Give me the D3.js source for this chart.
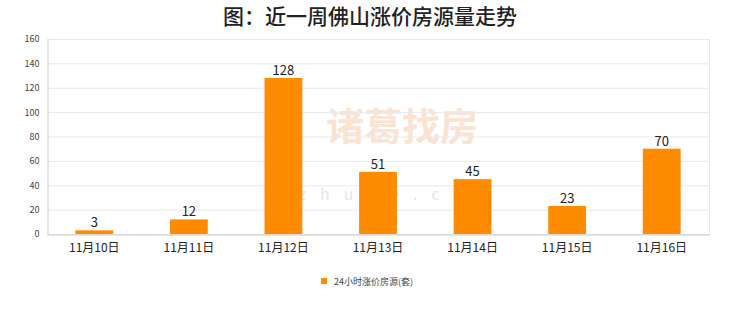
<!DOCTYPE html>
<html><head><meta charset="utf-8">
<script src="https://cdn.jsdelivr.net/npm/d3@7"></script>
<style>body{margin:0;background:#fff;}svg{display:block;}</style>
</head><body>
<script>
const categories = ["11月10日","11月11日","11月12日","11月13日","11月14日","11月15日","11月16日"];
const values = [3,12,128,51,45,23,70];
const yTicks = [0,20,40,60,80,100,120,140,160];
const title = "图：近一周佛山涨价房源量走势";
const seriesName = "24小时涨价房源(套)";

const W=740,H=312;
const m={l:47,r:31,t:39,b:78};
const svg=d3.select("body").append("svg").attr("width",W).attr("height",H);
const x=d3.scaleBand().domain(categories).range([m.l,W-m.r]).paddingInner(0.6).paddingOuter(0.3);
const y=d3.scaleLinear().domain([0,160]).range([H-m.b,m.t]);
const font="'Noto Sans CJK SC','Noto Sans',sans-serif";

// watermark
const wm=svg.append("g");
wm.append("text").attr("x",402).attr("y",140).attr("text-anchor","middle").attr("font-family",font).attr("font-size",38).attr("font-weight","bold").attr("fill","#fbe3d2").text("诸葛找房");
wm.append("text").attr("x",402).attr("y",200).attr("text-anchor","middle").attr("font-family",font).attr("font-size",16).attr("letter-spacing",14).attr("fill","#e6e6e6").text("zhuge.com");

// grid
svg.append("g").selectAll("line").data(yTicks).join("line")
 .attr("x1",m.l).attr("x2",W-m.r).attr("y1",d=>y(d)+0.5).attr("y2",d=>y(d)+0.5)
 .attr("stroke","#e8e8e8");
svg.append("line").attr("x1",W-m.r+0.5).attr("x2",W-m.r+0.5).attr("y1",m.t).attr("y2",H-m.b).attr("stroke","#e8e8e8");

// y axis
const ya=svg.append("g").attr("transform",`translate(${m.l+0.5},0)`)
 .call(d3.axisLeft(y).tickValues(yTicks).tickSize(0).tickPadding(8));
ya.select(".domain").attr("stroke","#ccc");
ya.selectAll("text").attr("font-family",font).attr("font-size",9).attr("fill","#444");

// x axis
const xa=svg.append("g").attr("transform",`translate(0,${H-m.b+0.5})`)
 .call(d3.axisBottom(x).tickSize(0).tickPadding(9));
xa.select(".domain").attr("stroke","#ccc");
xa.selectAll("text").attr("font-family",font).attr("font-size",12).attr("fill","#222");

// bars
svg.append("g").selectAll("rect").data(values).join("rect")
 .attr("x",(d,i)=>x(categories[i])).attr("width",x.bandwidth())
 .attr("y",d=>y(d)).attr("height",d=>y(0)-y(d)).attr("fill","#ff8c00");
svg.append("g").selectAll("text").data(values).join("text")
 .attr("x",(d,i)=>x(categories[i])+x.bandwidth()/2).attr("y",d=>y(d)-3)
 .attr("text-anchor","middle").attr("font-family",font).attr("font-size",13).attr("fill","#222").text(d=>d);

// title
svg.append("text").attr("x",370).attr("y",24).attr("text-anchor","middle").attr("font-family",font).attr("font-size",21).attr("font-weight",500).attr("fill","#222").text(title);

// legend
svg.append("rect").attr("x",321).attr("y",278).attr("width",6).attr("height",6).attr("fill","#ff8c00");
svg.append("text").attr("x",334).attr("y",284.5).attr("font-family",font).attr("font-size",9).attr("fill","#444").text(seriesName);
</script>
</body></html>
